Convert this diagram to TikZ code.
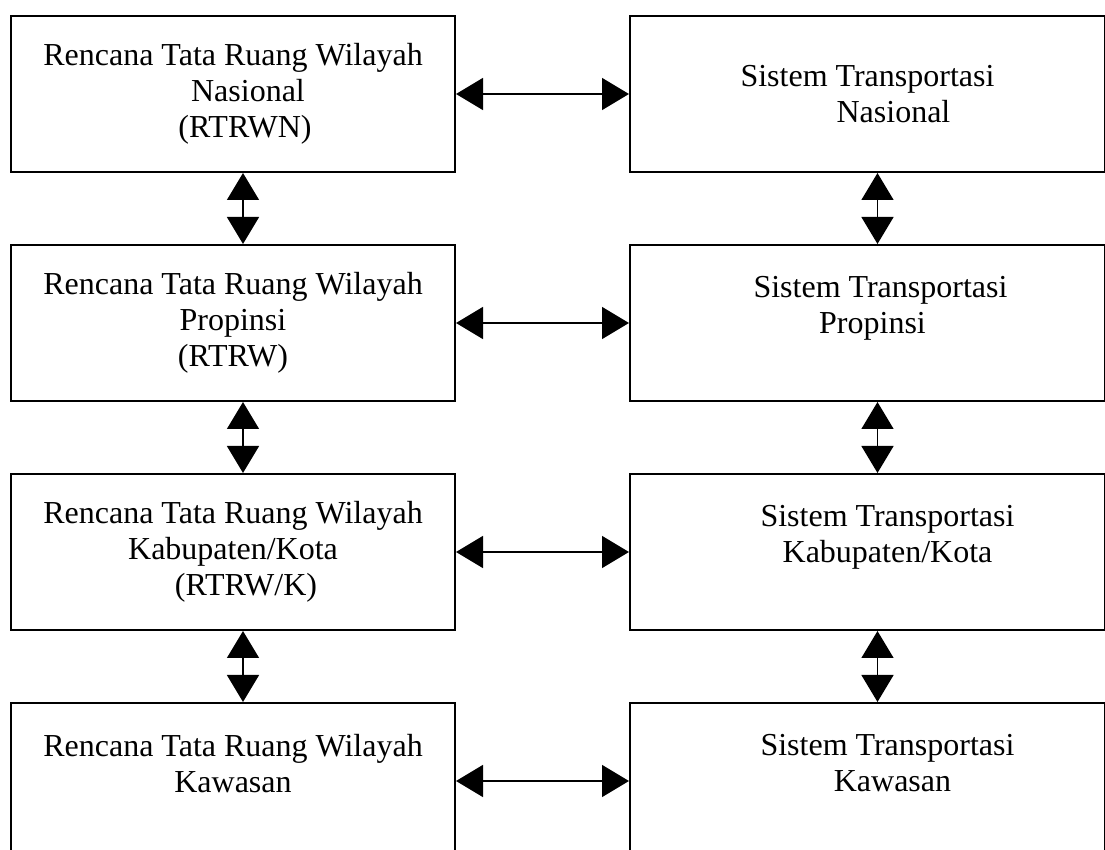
\documentclass[tikz,border=0pt]{standalone}
\usepackage{fontspec}
\setmainfont{Liberation Serif}
\usetikzlibrary{positioning,arrows.meta}

\tikzset{
  plan/.style={draw, line width=1pt, minimum width=222pt, minimum height=78pt,
    inner sep=0pt, align=center, font=\fontsize{16}{18}\selectfont},
  trans/.style={plan, minimum width=237.5pt},
  link/.style={{Triangle[length=13.5pt,width=16pt]}-{Triangle[length=13.5pt,width=16pt]},
    line width=0.75pt},
}

\begin{document}
\begin{tikzpicture}[x=0.5pt, y=-0.5pt, node distance=35.5pt and 86.5pt]
  \useasboundingbox (0,0) rectangle (1105,850);
  \clip (0,0) rectangle (1105,850);

  %Define nodes
  \node[plan] (rtrwn) at (233,94)
    {Rencana Tata Ruang Wilayah\\ \hspace*{15pt}Nasional\\ \hspace*{12pt}(RTRWN)};
  \node[plan, below=of rtrwn] (rtrw)
    {Rencana Tata Ruang Wilayah\\ Propinsi\\ (RTRW)};
  \node[plan, below=of rtrw] (rtrwk)
    {Rencana Tata Ruang Wilayah\\ Kabupaten/Kota\\ \hspace*{13pt}(RTRW/K)};
  \node[plan, below=of rtrwk] (rtrwkw)
    {Rencana Tata Ruang Wilayah\\ Kawasan\\ \mbox{}};

  \node[trans, right=of rtrwn] (stn)
    {Sistem Transportasi\\ \hspace*{26pt}Nasional};
  \node[trans, right=of rtrw] (stp)
    {\hspace*{13pt}Sistem Transportasi\\ \hspace*{5pt}Propinsi\\ \mbox{}};
  \node[trans, right=of rtrwk] (stk)
    {\hspace*{20pt}Sistem Transportasi\\ \hspace*{20pt}Kabupaten/Kota\\ \mbox{}};
  \node[trans, right=of rtrwkw] (stkw)
    {\hspace*{20pt}Sistem Transportasi\\ \hspace*{25pt}Kawasan\\ \mbox{}};

  % Connect the nodes
  \draw[link] (rtrwn) -- (stn);
  \draw[link] (rtrw) -- (stp);
  \draw[link] (rtrwk) -- (stk);
  \draw[link] (rtrwkw) -- (stkw);

  \draw[link] ([xshift=5pt]rtrwn.south) -- ([xshift=5pt]rtrw.north);
  \draw[link] ([xshift=5pt]rtrw.south) -- ([xshift=5pt]rtrwk.north);
  \draw[link] ([xshift=5pt]rtrwk.south) -- ([xshift=5pt]rtrwkw.north);

  \draw[link] ([xshift=5pt]stn.south) -- ([xshift=5pt]stp.north);
  \draw[link] ([xshift=5pt]stp.south) -- ([xshift=5pt]stk.north);
  \draw[link] ([xshift=5pt]stk.south) -- ([xshift=5pt]stkw.north);

\end{tikzpicture}
\end{document}
